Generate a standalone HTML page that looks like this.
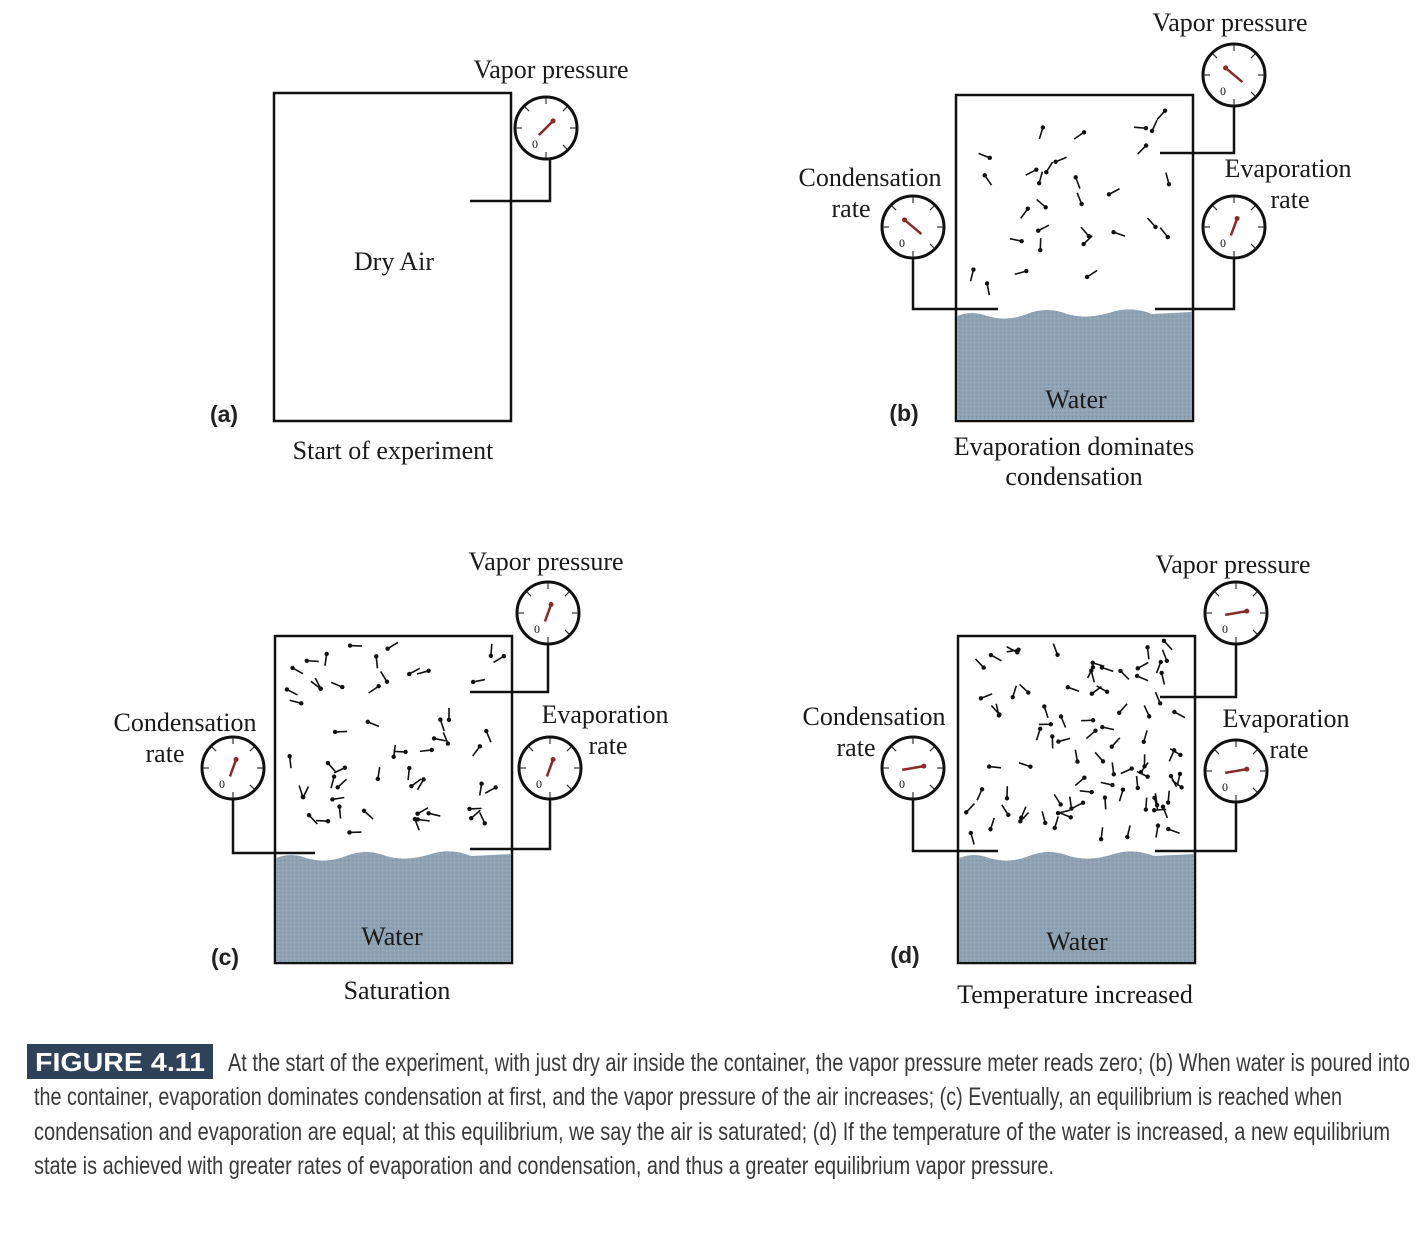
<!DOCTYPE html>
<html><head><meta charset="utf-8"><style>
html,body{margin:0;padding:0;background:#fff;}
svg{display:block}
.t{font-family:"Liberation Serif",serif;font-size:26px;fill:#1a1a1a;text-anchor:middle}
.l{font-family:"Liberation Sans",sans-serif;font-weight:bold;font-size:23px;fill:#222;text-anchor:middle}
.c{font-family:"Liberation Sans Narrow","Liberation Sans",sans-serif;font-size:25px;fill:#3a3a3a}
</style></head><body>
<svg id="s" width="1424" height="1234" viewBox="0 0 1424 1234" xmlns="http://www.w3.org/2000/svg">
<defs>
<pattern id="w" width="4" height="4" patternUnits="userSpaceOnUse"><rect width="4" height="4" fill="#8fa2b4"/><rect width="1" height="1" fill="#7d91a4"/><rect x="2" y="2" width="1" height="1" fill="#a3b3c2"/></pattern>
</defs>
<g fill="none" stroke="#111" stroke-width="2.5">
<rect x="274" y="93" width="237" height="328"/>
<polyline points="470,201 550,201 550,156"/>
<path d="M956,312 L956,421 L1193,421 L1193,95 L956,95 L956,312"/>
<polyline points="1160,153 1234,153 1234,107"/>
<polyline points="1155,309 1234,309 1234,259"/>
<polyline points="913,259 913,309 998,309"/>
<rect x="275" y="636" width="237" height="327"/>
<polyline points="470,692 548,692 548,645"/>
<polyline points="470,849 550,849 550,800"/>
<polyline points="233,800 233,853 315,853"/>
<rect x="958" y="636" width="237" height="327"/>
<polyline points="1160,697 1236,697 1236,645"/>
<polyline points="1155,851 1236,851 1236,803"/>
<polyline points="913,800 913,851 998,851"/>
</g>
<path fill="url(#w)" d="M957,316 q15,-6 30,0 q20,6 40,-2 q20,-8 40,0 q20,6 45,-2 q20,-6 40,2 l40,-2 L1192,420 L957,420Z"/>
<path fill="url(#w)" d="M276,858 q15,-6 30,0 q20,6 40,-2 q20,-8 40,0 q20,6 45,-2 q20,-6 40,2 l40,-2 L511,962 L276,962Z"/>
<path fill="url(#w)" d="M959,858 q15,-6 30,0 q20,6 40,-2 q20,-8 40,0 q20,6 45,-2 q20,-6 40,2 l40,-2 L1194,962 L959,962Z"/>
<g id="gauges"></g>
<g id="mol"></g>
<text class="t" x="551" y="78">Vapor pressure</text>
<text class="t" x="394" y="270">Dry Air</text>
<text class="l" x="224" y="422">(a)</text>
<text class="t" x="393" y="459">Start of experiment</text>

<text class="t" x="1230" y="31">Vapor pressure</text>
<text class="t" x="1288" y="177">Evaporation</text>
<text class="t" x="1290" y="208">rate</text>
<text class="t" x="870" y="186">Condensation</text>
<text class="t" x="851" y="217">rate</text>
<text class="l" x="904" y="421">(b)</text>
<text class="t" x="1076" y="408">Water</text>
<text class="t" x="1074" y="455">Evaporation dominates</text>
<text class="t" x="1074" y="485">condensation</text>

<text class="t" x="546" y="570">Vapor pressure</text>
<text class="t" x="605" y="723">Evaporation</text>
<text class="t" x="608" y="754">rate</text>
<text class="t" x="185" y="731">Condensation</text>
<text class="t" x="165" y="762">rate</text>
<text class="l" x="225" y="965">(c)</text>
<text class="t" x="392" y="945">Water</text>
<text class="t" x="397" y="999">Saturation</text>

<text class="t" x="1233" y="573">Vapor pressure</text>
<text class="t" x="1286" y="727">Evaporation</text>
<text class="t" x="1289" y="758">rate</text>
<text class="t" x="874" y="725">Condensation</text>
<text class="t" x="856" y="756">rate</text>
<text class="l" x="905" y="963">(d)</text>
<text class="t" x="1077" y="950">Water</text>
<text class="t" x="1075" y="1003">Temperature increased</text>

<rect x="27" y="1044" width="186" height="35" fill="#2f4259"/>
<text x="120" y="1071" text-anchor="middle" style="font-family:'Liberation Sans',sans-serif;font-weight:bold;font-size:26px;fill:#fff" textLength="170" lengthAdjust="spacingAndGlyphs">FIGURE 4.11</text>
<text class="c" x="228" y="1071" textLength="1182" lengthAdjust="spacingAndGlyphs">At the start of the experiment, with just dry air inside the container, the vapor pressure meter reads zero; (b) When water is poured into</text>
<text class="c" x="34" y="1105" textLength="1308" lengthAdjust="spacingAndGlyphs">the container, evaporation dominates condensation at first, and the vapor pressure of the air increases; (c) Eventually, an equilibrium is reached when</text>
<text class="c" x="34" y="1140" textLength="1356" lengthAdjust="spacingAndGlyphs">condensation and evaporation are equal; at this equilibrium, we say the air is saturated; (d) If the temperature of the water is increased, a new equilibrium</text>
<text class="c" x="34" y="1174" textLength="1020" lengthAdjust="spacingAndGlyphs">state is achieved with greater rates of evaporation and condensation, and thus a greater equilibrium vapor pressure.</text>
</svg>
<script>
var NS="http://www.w3.org/2000/svg";
function el(p,t,a){var e=document.createElementNS(NS,t);for(var k in a)e.setAttribute(k,a[k]);p.appendChild(e);return e;}
var G=document.getElementById("gauges");
function gauge(cx,cy,ang,len){
 el(G,"circle",{cx:cx,cy:cy,r:31,fill:"#fff",stroke:"#111","stroke-width":3});
 for(var i=0;i<8;i++){var a=i*Math.PI/4;
  if(i==3)continue;
  el(G,"line",{x1:cx+Math.cos(a)*24,y1:cy+Math.sin(a)*24,x2:cx+Math.cos(a)*30,y2:cy+Math.sin(a)*30,stroke:"#333","stroke-width":1.2});}
 var t=el(G,"text",{x:cx-14,y:cy+20,"font-family":"Liberation Serif,serif","font-size":"12",fill:"#111"});t.textContent="0";
 var r=ang*Math.PI/180;
 el(G,"line",{x1:cx-Math.cos(r)*len*0.5,y1:cy-Math.sin(r)*len*0.5,x2:cx+Math.cos(r)*len*0.5,y2:cy+Math.sin(r)*len*0.5,stroke:"#8a2a2a","stroke-width":2.5});
 el(G,"circle",{cx:cx+Math.cos(r)*len*0.5,cy:cy+Math.sin(r)*len*0.5,r:2.5,fill:"#8a2a2a"});
}
gauge(546,128,-45,20);
gauge(1234,75,-140,22);gauge(1234,227,-70,18);gauge(913,227,-140,22);
gauge(548,613,-70,18);gauge(550,768,-70,18);gauge(233,768,-70,18);
gauge(1236,613,-10,22);gauge(1236,771,-10,22);gauge(913,768,-10,22);
var M=document.getElementById("mol");
var seed=7;function rnd(){seed=(seed*16807)%2147483647;return seed/2147483647;}
function mols(x0,y0,x1,y1,n){
 for(var i=0;i<n;i++){var x=x0+rnd()*(x1-x0),y=y0+rnd()*(y1-y0),a=rnd()*Math.PI*2;
  var dx=Math.cos(a)*6,dy=Math.sin(a)*6;
  el(M,"line",{x1:x-dx,y1:y-dy,x2:x+dx,y2:y+dy,stroke:"#111","stroke-width":1.6});
  el(M,"circle",{cx:x-dx,cy:y-dy,r:2.2,fill:"#111"});}
}
mols(972,105,1180,290,30);
mols(290,645,500,835,55);
mols(970,645,1185,840,85);
</script>
</body></html>
